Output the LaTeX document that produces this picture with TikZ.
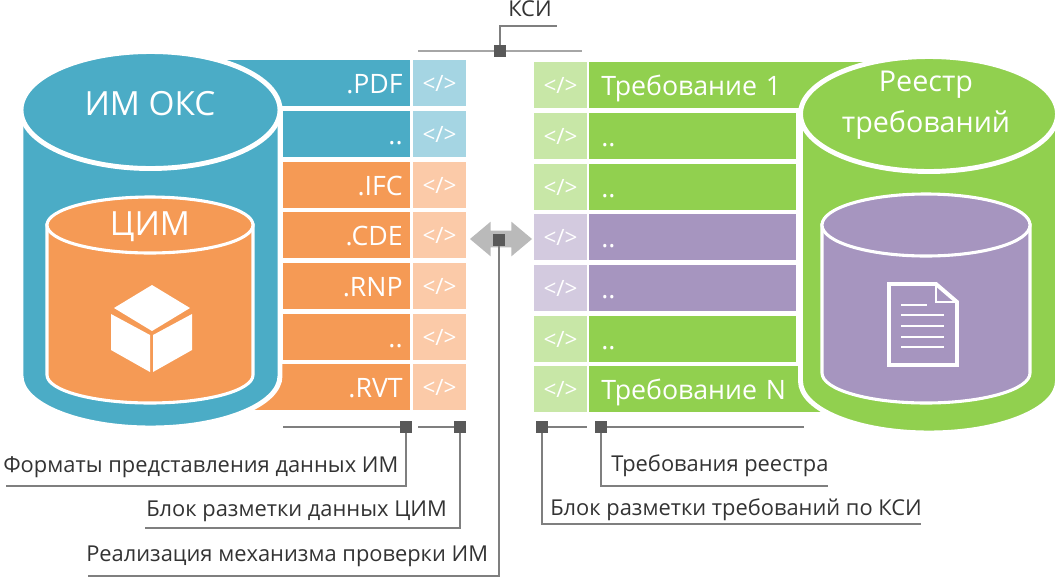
\documentclass[tikz,border=0pt]{standalone}
\usepackage{fontspec}
\setmainfont{Open Sans}
\usetikzlibrary{positioning,shapes.arrows}
\definecolor{imTeal}{HTML}{4BACC6}
\definecolor{imTealLight}{HTML}{A5D5E3}
\definecolor{imOrange}{HTML}{F59A55}
\definecolor{imOrangeLight}{HTML}{FBCAA8}
\definecolor{imGreen}{HTML}{91D04F}
\definecolor{imGreenLight}{HTML}{C8E7A7}
\definecolor{imPurple}{HTML}{A695BF}
\definecolor{imPurpleLight}{HTML}{D3CADF}
\definecolor{leaderGray}{HTML}{7F7F7F}
\definecolor{markGray}{HTML}{595959}
\tikzset{
  rowCell/.style={text=white, font=\fontsize{19}{21}\selectfont, inner ysep=0pt, minimum height=1.15cm, text height=15pt, text depth=0pt},
  leftRow/.style={rowCell, anchor=east, align=right, inner xsep=0.175cm, text width=2.825cm},
  leftRowWide/.style={leftRow, text width=4.25cm},
  rightRow/.style={rowCell, anchor=west, align=left, inner xsep=0.3cm, text width=4.575cm},
  rightRowWide/.style={rightRow, text width=6.3cm},
  tagCell/.style={text=white, font=\fontsize{16}{18}\selectfont, inner sep=0pt, minimum width=1.33cm, minimum height=1.15cm},
  cylBody/.style={draw=white, line width=2.2pt},
  cylOuter/.style={draw=white, line width=3.5pt},
  cylTitle/.style={text=white, align=center, font=\fontsize{23.7}{31}\selectfont, inner sep=0pt},
  regTitleText/.style={text=white, align=center, font=\fontsize{20.4}{29}\selectfont, inner sep=0pt},
  markBox/.style={fill=markGray, inner sep=0pt, minimum size=0.3cm},
  leader/.style={draw=leaderGray, line width=1.1pt},
  topLeader/.style={draw=black!35, line width=1.3pt},
  noteText/.style={anchor=base west, inner sep=0pt, text=black!80, font=\fontsize{15.55}{18}\selectfont}
}
\begin{document}
\begin{tikzpicture}[x=0.025cm, y=0.025cm]
  \useasboundingbox (0,0) rectangle (1060,-581);

  \node[leftRowWide, fill=imTeal] (pdfRow) at (410,-83) {.PDF};
  \node[leftRow, fill=imTeal] (dotsRowA) at (410,-134) {..};
  \node[leftRow, fill=imOrange] (ifcRow) at (410,-185) {.IFC};
  \node[leftRow, fill=imOrange] (cdeRow) at (410,-235) {.CDE};
  \node[leftRow, fill=imOrange] (rnpRow) at (410,-286) {.RNP};
  \node[leftRow, fill=imOrange] (dotsRowB) at (410,-337) {..};
  \node[leftRowWide, fill=imOrange] (rvtRow) at (410,-387) {.RVT};

  \node[tagCell, fill=imTealLight] (pdfTag) at (439.5,-83) {</>};
  \node[tagCell, fill=imTealLight] (dotsTagA) at (439.5,-134) {</>};
  \node[tagCell, fill=imOrangeLight] (ifcTag) at (439.5,-185) {</>};
  \node[tagCell, fill=imOrangeLight] (cdeTag) at (439.5,-235) {</>};
  \node[tagCell, fill=imOrangeLight] (rnpTag) at (439.5,-286) {</>};
  \node[tagCell, fill=imOrangeLight] (dotsTagB) at (439.5,-337) {</>};
  \node[tagCell, fill=imOrangeLight] (rvtTag) at (439.5,-387) {</>};

  \node[rightRowWide, fill=imGreen] (reqFirstRow) at (589,-85) {Требование 1};
  \node[rightRow, fill=imGreen] (reqRowA) at (589,-136) {..};
  \node[rightRow, fill=imGreen] (reqRowB) at (589,-187) {..};
  \node[rightRow, fill=imPurple] (reqRowC) at (589,-237) {..};
  \node[rightRow, fill=imPurple] (reqRowD) at (589,-288) {..};
  \node[rightRow, fill=imGreen] (reqRowE) at (589,-339) {..};
  \node[rightRowWide, fill=imGreen] (reqLastRow) at (589,-389) {Требование N};

  \node[tagCell, fill=imGreenLight] (reqTagFirst) at (560.5,-85) {</>};
  \node[tagCell, fill=imGreenLight] (reqTagA) at (560.5,-136) {</>};
  \node[tagCell, fill=imGreenLight] (reqTagB) at (560.5,-187) {</>};
  \node[tagCell, fill=imPurpleLight] (reqTagC) at (560.5,-237) {</>};
  \node[tagCell, fill=imPurpleLight] (reqTagD) at (560.5,-288) {</>};
  \node[tagCell, fill=imGreenLight] (reqTagE) at (560.5,-339) {</>};
  \node[tagCell, fill=imGreenLight] (reqTagLast) at (560.5,-389) {</>};

  \path[cylOuter, fill=imTeal] (21,-108) -- (21,-376) arc[start angle=180, end angle=360, x radius=129.5, y radius=52] -- (280,-108) -- cycle;
  \path[cylOuter, fill=imTeal] (150.5,-110) ellipse[x radius=129.5, y radius=58.5];
  \node[cylTitle] (imTitle) at (150,-104) {ИМ ОКС};
  \path[cylBody, fill=imOrange] (47,-225) -- (47,-375) arc[start angle=180, end angle=360, x radius=103, y radius=28] -- (253,-225) -- cycle;
  \path[cylBody, fill=imOrange] (150,-225) ellipse[x radius=103, y radius=28];
  \node[cylTitle] (bimTitle) at (150,-227) {ЦИМ};
  \fill[white] (152,-285) -- (190,-308) -- (152,-331) -- (114,-308) -- cycle;
  \fill[white] (111,-314) -- (111,-350) -- (150,-372) -- (150,-335) -- cycle;
  \fill[white] (153,-335) -- (153,-372) -- (192,-350) -- (192,-314) -- cycle;

  \path[cylOuter, fill=imGreen] (800.5,-114) -- (800.5,-381) arc[start angle=180, end angle=360, x radius=128.5, y radius=52] -- (1057.5,-114) -- cycle;
  \path[cylOuter, fill=imGreen] (929,-114) ellipse[x radius=128.5, y radius=57.5];
  \node[regTitleText] (regTitle) at (926,-105) {Реестр\\требований};
  \path[cylBody, fill=imPurple] (822,-225) -- (822,-373) arc[start angle=180, end angle=360, x radius=104, y radius=30] -- (1030,-225) -- cycle;
  \path[cylBody, fill=imPurple] (926,-225) ellipse[x radius=104, y radius=31];
  \draw[white, line width=2.8pt, line join=miter] (889,-284) -- (936,-284) -- (957,-302) -- (957,-365) -- (889,-365) -- cycle;
  \draw[white, line width=1.6pt] (936,-284) -- (936,-302) -- (957,-302);
  \draw[white, line width=1.3pt] (901,-305) -- (927,-305);
  \draw[white, line width=1.3pt] (901,-315) -- (944,-315);
  \draw[white, line width=1.3pt] (901,-326) -- (944,-326);
  \draw[white, line width=1.3pt] (901,-337) -- (944,-337);
  \draw[white, line width=1.3pt] (901,-347) -- (944,-347);

  \node[double arrow, fill=black!27, inner xsep=0pt, inner ysep=0.2cm, minimum height=1.55cm, double arrow head extend=0.225cm, double arrow tip angle=80] (checkArrow) at (501,-239) {};

  \node[markBox] (ksiMark) at (500,-51) {};
  \node[markBox] (formatMark) at (406,-427) {};
  \node[markBox] (tagMark) at (460,-427) {};
  \node[markBox] (checkMark) at (499,-240) {};
  \node[markBox] (reqTagMark) at (542,-427) {};
  \node[markBox] (reqMark) at (601,-427) {};

  \node[noteText] (ksiNote) at (508,-16) {КСИ};
  \node[noteText] (formatNote) at (3,-472) {Форматы представления данных ИМ};
  \node[noteText] (tagNote) at (146,-516) {Блок разметки данных ЦИМ};
  \node[noteText] (checkNote) at (86,-561) {Реализация механизма проверки ИМ};
  \node[noteText] (reqNote) at (611,-471) {Требования реестра};
  \node[noteText] (reqTagNote) at (550,-515) {Блок разметки требований по КСИ};

  \coordinate (ksiBarLeft) at (418,-51);
  \coordinate (ksiBarRight) at (582,-51);
  \coordinate (ksiEnd) at (557,-26);
  \coordinate (formatBar) at (283,-427);
  \coordinate (tagBar) at (418,-427);
  \coordinate (reqTagBar) at (587,-427);
  \coordinate (reqBar) at (804,-427);
  \coordinate (formatEnd) at (6,-486);
  \coordinate (tagEnd) at (145,-528);
  \coordinate (checkEnd) at (88,-576);
  \coordinate (reqEnd) at (828,-486);
  \coordinate (reqTagEnd) at (921,-524);

  \draw[topLeader] (ksiMark.west) -- (ksiBarLeft);
  \draw[topLeader] (ksiMark.east) -- (ksiBarRight);
  \draw[leader] (ksiMark.north) |- (ksiEnd);
  \draw[leader] (formatMark.west) -- (formatBar);
  \draw[leader] (tagMark.west) -- (tagBar);
  \draw[leader] (reqTagMark.east) -- (reqTagBar);
  \draw[leader] (reqMark.east) -- (reqBar);
  \draw[leader] (formatMark.south) |- (formatEnd);
  \draw[leader] (tagMark.south) |- (tagEnd);
  \draw[leader] (checkMark.south) |- (checkEnd);
  \draw[leader] (reqMark.south) |- (reqEnd);
  \draw[leader] (reqTagMark.south) |- (reqTagEnd);
\end{tikzpicture}
\end{document}
